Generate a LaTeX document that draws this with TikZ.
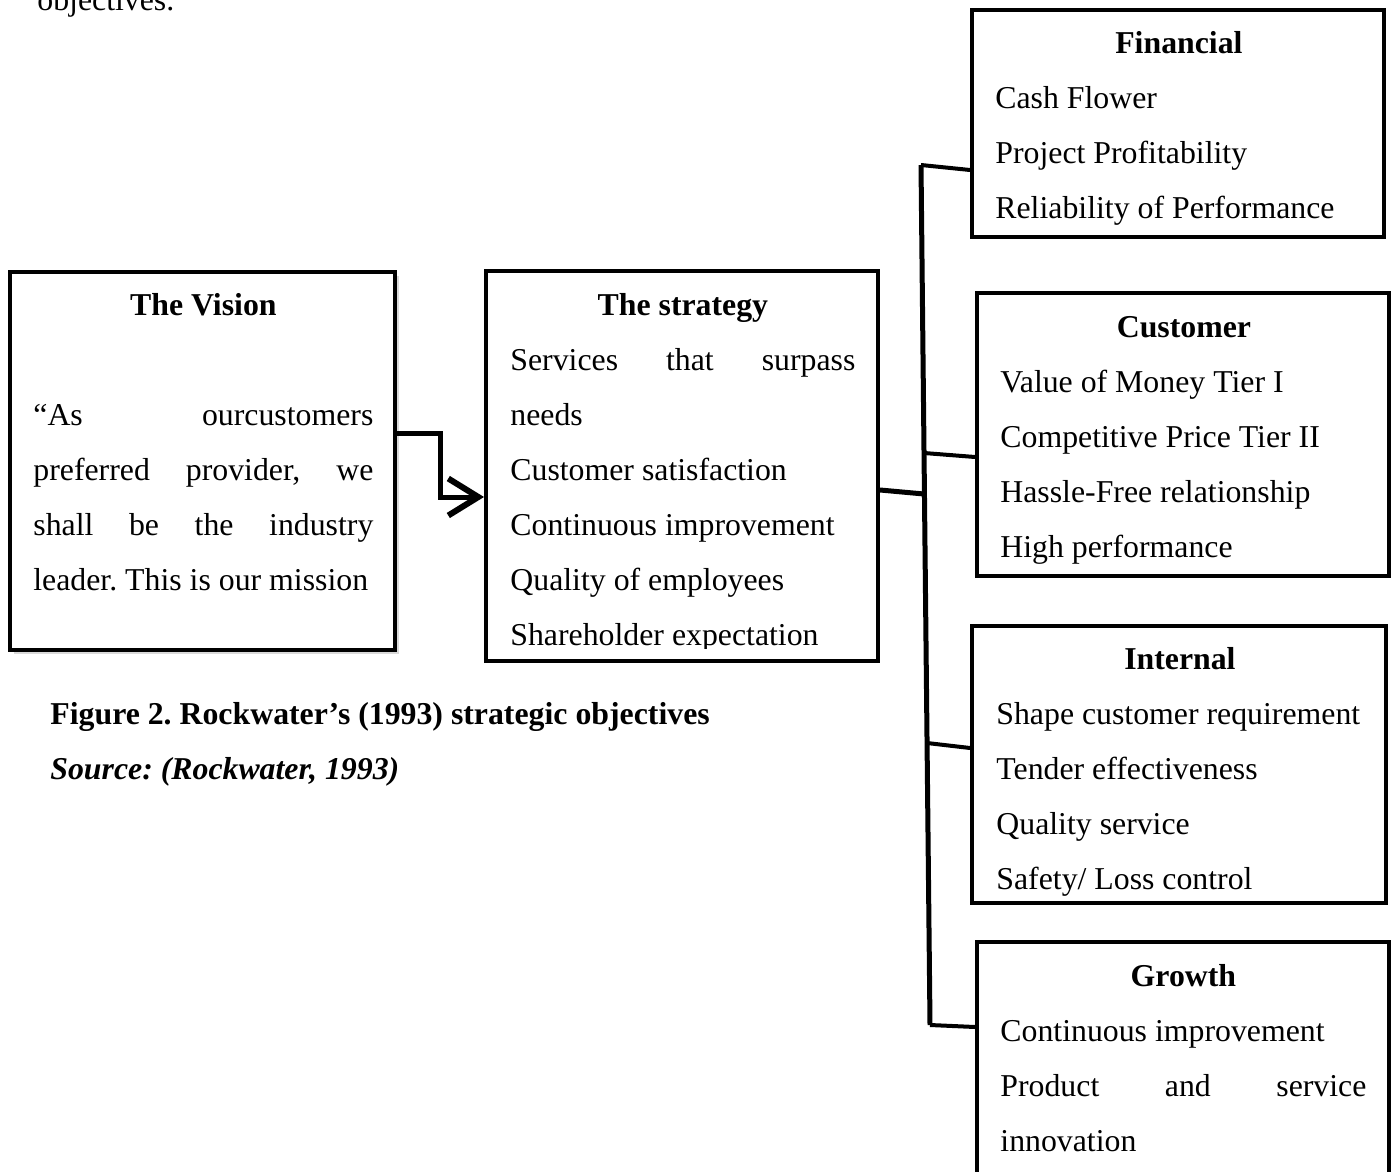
\documentclass[tikz,border=0pt]{standalone}
\usepackage{fontspec}
\setmainfont{Liberation Serif}
\usetikzlibrary{fit,arrows.meta,shadows}
\frenchspacing
\begin{document}
\begin{tikzpicture}[x=0.5pt,y=-0.5pt]
    \tikzstyle{every picture}=[thick]
    \tikzstyle{box}=[draw,line width=2pt,inner sep=0pt,fill=white]
    \tikzstyle{txt}=[inner sep=0pt,anchor=base west,align=justify,font=\fontsize{15.9}{27.5}\selectfont]
    \tikzstyle{lbl}=[inner sep=0pt,anchor=base west,font=\fontsize{15.9}{27.5}\selectfont]
    \tikzstyle{link}=[line width=2.5pt]
    \tikzstyle{branch}=[line width=2pt]
    \useasboundingbox (0,0) rectangle (1395,1171);
    \node[lbl] (obj) at (37,11) {objectives.};
    % boxes
    \node[box,drop shadow={opacity=0.3,shadow xshift=2pt,shadow yshift=-2pt},fit={(10,272) (395,650)}] (vis) {};
    \node[box,fit={(486,271) (878,661)}] (str) {};
    \node[box,fit={(972,10) (1384,237)}] (fin) {};
    \node[box,fit={(977,293) (1389,576)}] (cus) {};
    \node[box,fit={(972,626) (1386,903)}] (int) {};
    \node[box,fit={(977,942) (1389,1200)}] (gro) {};
    % texts
    \node[txt,text width=170pt] (vistxt) at (33,315) {\makebox[\linewidth]{\bfseries The Vision}\\[27.5pt]
        “As\hfill ourcustomers\\
        preferred\hfill provider,\hfill we\\
        shall\hfill be\hfill the\hfill industry\\
        leader. This is our mission};
    \begin{scope}
        \clip (486,271) rectangle (878,648);
        \node[txt,text width=172.5pt] (strtxt) at (510,315) {\makebox[\linewidth]{\bfseries The strategy}\\
            Services\hfill that\hfill surpass\\
            needs\\
            Customer satisfaction\\
            Continuous improvement\\
            Quality of employees\\
            Shareholder expectation};
    \end{scope}
    \node[txt,text width=183.5pt] (fintxt) at (995,54) {\makebox[\linewidth]{\bfseries Financial}\\
        Cash Flower\\
        Project Profitability\\
        Reliability of Performance};
    \node[txt,text width=183.5pt] (custxt) at (1000,337) {\makebox[\linewidth]{\bfseries Customer}\\
        Value of Money Tier I\\
        Competitive Price Tier II\\
        Hassle-Free relationship\\
        High performance};
    \node[txt,text width=183.5pt] (inttxt) at (996,669) {\makebox[\linewidth]{\bfseries Internal}\\
        Shape customer requirement\\
        Tender effectiveness\\
        Quality service\\
        Safety/ Loss control};
    \node[txt,text width=183pt] (grotxt) at (1000,986) {\makebox[\linewidth]{\bfseries Growth}\\
        Continuous improvement\\
        Product\hfill and\hfill service\\
        innovation};
    \node[lbl] (cap) at (50,724) {\bfseries Figure 2. Rockwater’s (1993) strategic objectives};
    \node[lbl] (src) at (50,779) {\bfseries\itshape Source: (Rockwater, 1993)};
    % connectors
    \draw[link,-{Straight Barb[length=15pt,width=18.5pt,line width=3pt]}] (vis.east |- 0,433) -- (440,433) |- (str.west |- 0,497);
    \coordinate (sp1) at (921,165);
    \coordinate (sp2) at (930,1025);
    \coordinate (jc) at (924,453);
    \coordinate (js) at (924,494);
    \coordinate (ji) at (927,743);
    \draw[link] (sp1) -- (sp2);
    \draw[link] (str.east |- 0,490) -- (js);
    \draw[branch] (sp1) -- (fin.west |- 0,170);
    \draw[branch] (jc) -- (cus.west |- 0,457);
    \draw[branch] (ji) -- (int.west |- 0,748);
    \draw[branch] (sp2) -- (gro.west |- 0,1027);
\end{tikzpicture}
\end{document}
